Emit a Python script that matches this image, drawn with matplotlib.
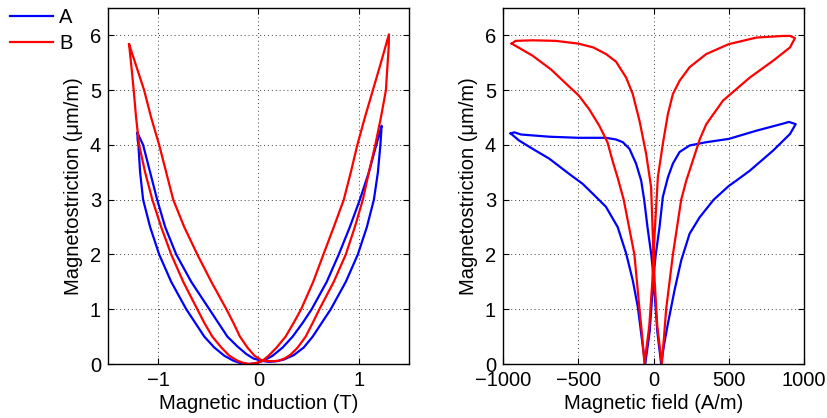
import matplotlib
matplotlib.use('Agg')
import matplotlib.pyplot as plt

# ---- data: left panel (magnetic induction T, magnetostriction um/m) ----
ind_A = [-1.207, -1.205, -1.197, -1.18, -1.15, -1.08, -0.99, -0.87, -0.72, -0.63, -0.54, -0.44, -0.34,
         -0.25, -0.17, -0.10, -0.03, 0.05, 0.14, 0.24, 0.34, 0.44, 0.53, 0.68, 0.80, 0.91, 1.01, 1.10,
         1.174, 1.227,
         1.222, 1.215, 1.19, 1.15, 1.08, 0.99, 0.87, 0.72, 0.63, 0.54, 0.45, 0.35, 0.25, 0.18, 0.10,
         0.03, -0.05, -0.12, -0.21, -0.31, -0.40, -0.49, -0.67, -0.82, -0.93, -1.01, -1.08, -1.15, -1.207]
lamB_A = [4.22, 4.1, 4.0, 3.5, 3.0, 2.5, 2.0, 1.5, 1.0, 0.75, 0.5, 0.3, 0.15,
          0.06, 0.01, 0.0, 0.01, 0.06, 0.15, 0.3, 0.5, 0.75, 1.0, 1.5, 2.0, 2.5, 3.0, 3.5,
          4.0, 4.35,
          4.2, 4.0, 3.5, 3.0, 2.5, 2.0, 1.5, 1.0, 0.75, 0.5, 0.3, 0.16, 0.08, 0.05, 0.04,
          0.06, 0.1, 0.18, 0.32, 0.5, 0.75, 1.0, 1.5, 2.0, 2.5, 3.0, 3.5, 4.0, 4.22]
ind_B = [-1.29, -1.265, -1.244, -1.22, -1.19, -1.13, -1.058, -0.97, -0.87, -0.75, -0.61, -0.54, -0.46,
         -0.37, -0.29, -0.21, -0.15, -0.09, -0.02, 0.04, 0.10, 0.18, 0.27, 0.35, 0.425, 0.545, 0.647,
         0.75, 0.85, 0.92, 0.985, 1.06, 1.14, 1.22, 1.30,
         1.298, 1.293, 1.28, 1.27, 1.22, 1.164, 1.10, 1.04, 0.96, 0.87, 0.75, 0.607, 0.54, 0.47,
         0.39, 0.32, 0.26, 0.20, 0.14, 0.08, 0.03, -0.04, -0.11, -0.185, -0.25, -0.32, -0.47, -0.61,
         -0.74, -0.85, -0.92, -0.99, -1.07, -1.14, -1.29]
lamB_B = [5.84, 5.4, 5.0, 4.5, 4.0, 3.5, 3.0, 2.5, 2.0, 1.5, 1.0, 0.75, 0.5,
          0.3, 0.15, 0.06, 0.02, 0.0, 0.02, 0.06, 0.15, 0.3, 0.5, 0.75, 1.0, 1.5, 2.0,
          2.5, 3.0, 3.5, 4.0, 4.5, 5.0, 5.5, 6.02,
          5.8, 5.65, 5.3, 5.0, 4.5, 4.0, 3.5, 3.0, 2.5, 2.0, 1.5, 1.0, 0.75, 0.5,
          0.3, 0.17, 0.1, 0.06, 0.05, 0.055, 0.07, 0.15, 0.3, 0.5, 0.75, 1.0, 1.5, 2.0,
          2.5, 3.0, 3.5, 4.0, 4.5, 5.0, 5.84]

# ---- data: right panel (magnetic field A/m, magnetostriction um/m) ----
fld_A = [-949, -925, -880, -693, -500, -316, -250, -204, -160, -116, -82, -62, -40, -15, 0, 10, 25, 51,
         70, 96, 140, 184, 240, 307, 400, 500, 551, 640, 796, 907, 945, 900, 862, 684, 500, 351, 240,
         173, 129, 96, 62, 40, 15, 0, -10, -25, -55, -70, -82, -104, -138, -182, -238, -316, -404,
         -471, -560, -693, -804, -893, -949]
lamH_A = [4.21, 4.23, 4.19, 4.15, 4.13, 4.13, 4.10, 4.05, 3.93, 3.66, 3.35, 3.0, 2.5, 2.0, 1.6, 1.2, 0.6, 0.0,
          0.35, 0.74, 1.35, 1.89, 2.38, 2.68, 3.0, 3.25, 3.35, 3.53, 3.9, 4.2, 4.38, 4.42, 4.39, 4.26, 4.11, 4.05, 3.99,
          3.87, 3.66, 3.41, 3.05, 2.5, 2.0, 1.6, 1.2, 0.6, 0.0, 0.3, 0.56, 1.04, 1.53, 2.02, 2.5, 2.87, 3.11,
          3.29, 3.47, 3.75, 3.93, 4.08, 4.21]
fld_B = [-942, -916, -804, -650, -500, -400, -316, -249, -182, -138, -93, -49, -16, -8, 0, 8, 25, 55,
         70, 84, 129, 184, 218, 262, 307, 351, 462, 640, 796, 907, 940, 907, 862, 684, 500, 351, 240,
         173, 129, 96, 62, 29, 12, 0, -8, -28, -60, -75, -93, -127, -198, -238, -271, -306, -360,
         -427, -496, -566, -682, -804, -942]
lamH_B = [5.85, 5.90, 5.91, 5.90, 5.85, 5.78, 5.66, 5.52, 5.23, 4.93, 4.44, 3.84, 3.23, 2.6, 2.0, 1.5, 0.7, 0.0,
          0.5, 1.0, 2.0, 3.0, 3.35, 3.72, 4.1, 4.38, 4.81, 5.23, 5.54, 5.78, 5.95, 5.99, 5.99, 5.96, 5.84, 5.66, 5.42,
          5.17, 4.93, 4.57, 4.02, 3.41, 2.6, 2.0, 1.5, 0.7, 0.0, 0.5, 1.0, 2.0, 3.0, 3.4, 3.7, 4.05, 4.35,
          4.65, 4.9, 5.08, 5.38, 5.63, 5.85]

series_labels = ['A', 'B']
colors = ['#0000ff', '#ff0000']

plt.rcParams['font.family'] = ['Liberation Sans', 'DejaVu Sans']
plt.rcParams['font.size'] = 14.5
plt.rcParams['axes.unicode_minus'] = True

fig = plt.figure(figsize=(8.28, 4.18), dpi=100)
W, H = 828.0, 418.0
ax1 = fig.add_axes([108 / W, 54 / H, 301 / W, 356 / H])
ax2 = fig.add_axes([503 / W, 54 / H, 301 / W, 356 / H])

lw = 1.6
lA, = ax1.plot(ind_A, lamB_A, color=colors[0], lw=lw, label=series_labels[0])
lB, = ax1.plot(ind_B, lamB_B, color=colors[1], lw=lw, label=series_labels[1])
ax2.plot(fld_A, lamH_A, color=colors[0], lw=lw)
ax2.plot(fld_B, lamH_B, color=colors[1], lw=lw)

ax1.set_xlim(-1.5, 1.5)
ax1.set_xticks([-1, 0, 1])
ax2.set_xlim(-1000, 1000)
ax2.set_xticks([-1000, -500, 0, 500, 1000])
for ax in (ax1, ax2):
    ax.set_ylim(0, 6.5)
    ax.set_yticks([0, 1, 2, 3, 4, 5, 6])
    ax.grid(True, linestyle=(0, (1, 3)), color='0.25', linewidth=0.7)
    ax.tick_params(direction='in', top=True, right=True, length=4, width=0.8, pad=5)
    for s in ax.spines.values():
        s.set_linewidth(1.0)
    ax.set_ylabel('Magnetostriction (\u03bcm/m)', labelpad=5)

ax1.set_xlabel('Magnetic induction (T)', labelpad=3)
ax2.set_xlabel('Magnetic field (A/m)', labelpad=3)

fig.legend(handles=[lA, lB], labels=series_labels, loc='upper left',
           bbox_to_anchor=(10 / W, 1 - 8 / H), frameon=False, borderpad=0,
           borderaxespad=0, handlelength=2.15, handletextpad=0.3, labelspacing=0.35)

fig.savefig('out.png', dpi=100)
